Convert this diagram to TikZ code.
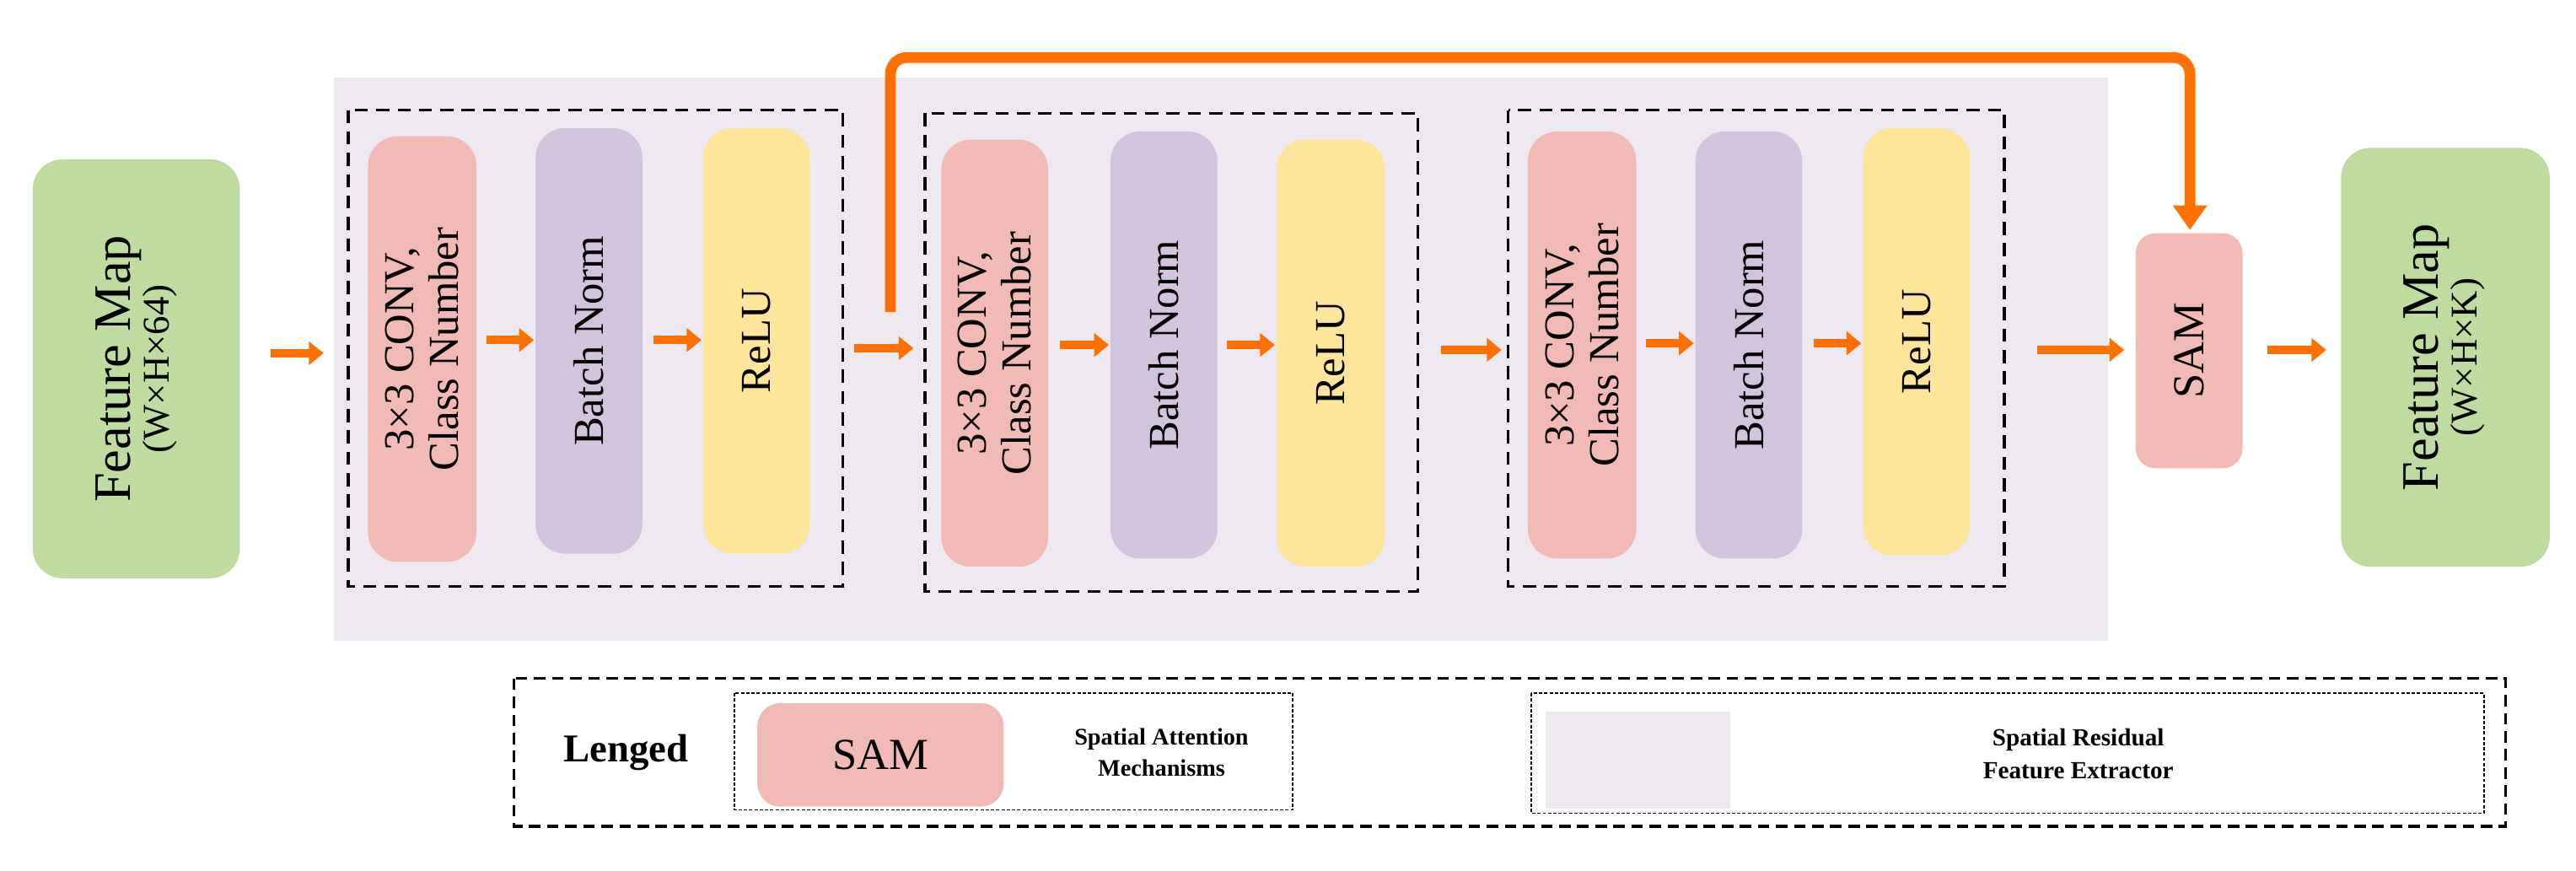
\documentclass[tikz,border=0pt]{standalone}
\usepackage{fontspec}
\setmainfont{Liberation Serif}
\usetikzlibrary{arrows.meta}
\definecolor{pk}{HTML}{F2BAB6}
\definecolor{pu}{HTML}{D2C4DC}
\definecolor{ye}{HTML}{FDE599}
\definecolor{gr}{HTML}{C0DBA0}
\definecolor{bg}{HTML}{EEE8F0}
\definecolor{or}{HTML}{FF7000}
\tikzset{
 blk/.style={rounded corners=18pt,draw=none,inner sep=0pt},
 arr/.style={or,line width=5pt,-{Triangle[length=9pt,width=14pt]}},
 dbox/.style={draw,dashed,line width=1.8pt,dash pattern=on 8pt off 5pt},
 vt/.style={rotate=90,align=center,font=\fontsize{26}{27}\selectfont},
}
\begin{document}
\begin{tikzpicture}[x=1pt,y=-1pt]
\useasboundingbox (0,0) rectangle (1568,530);
\fill[bg] (203,47) rectangle (1283,390);
\fill[gr,blk] (20,97) rectangle (146,352);
\node[rotate=90,align=center] (fin) at (83,224.5) {\fontsize{32}{34}\selectfont Feature Map\\\fontsize{23}{24}\selectfont (W×H×64)};
\fill[gr,blk] (1425,90) rectangle (1552,345);
\node[rotate=90,align=center] (fout) at (1488,217.5) {\fontsize{32}{34}\selectfont Feature Map\\\fontsize{23}{24}\selectfont (W×H×K)};
\draw[dbox] (212,67) rectangle (513,357);
\draw[dbox] (563,69) rectangle (863,360);
\draw[dbox] (918,67) rectangle (1220,357);
\foreach \n/\c/\xa/\xb/\ya/\yb/\t in {
 c1/pk/224/290/83/342/{3×3 CONV,\\Class Number},
 b1/pu/326/391/78/337/{Batch Norm},
 r1/ye/428/493/78/337/{ReLU},
 c2/pk/573/638/85/345/{3×3 CONV,\\Class Number},
 b2/pu/676/741/80/340/{Batch Norm},
 r2/ye/777/843/85/345/{ReLU},
 c3/pk/930/996/80/340/{3×3 CONV,\\Class Number},
 b3/pu/1032/1097/80/340/{Batch Norm},
 r3/ye/1134/1199/78/338/{ReLU}}{
 \fill[\c,blk] (\xa,\ya) rectangle (\xb,\yb);
 \node[vt] (\n) at ({(\xa+\xb)/2},{(\ya+\yb)/2}) {\t};
}
\fill[pk,blk,rounded corners=12pt] (1300,142) rectangle (1365,285);
\node[font=\fontsize{27}{28}\selectfont,rotate=90] (sam) at (1332.5,213.5) {SAM};
\draw[arr] (165,215) -- (197,215);
\draw[arr] (296,207) -- (325,207);
\draw[arr] (398,207) -- (427,207);
\draw[arr] (520,212) -- (556,212);
\draw[arr] (645,210) -- (675,210);
\draw[arr] (747,210) -- (776,210);
\draw[arr] (877,213) -- (914,213);
\draw[arr] (1002,209) -- (1031,209);
\draw[arr] (1104,209) -- (1133,209);
\draw[arr] (1240,213) -- (1293,213);
\draw[arr] (1380,213) -- (1416,213);
\draw[or,line width=6.5pt,rounded corners=10pt,-{Triangle[length=15pt,width=20pt]}] (542,190) -- (542,35) -- (1333,35) -- (1333,140);
\draw[dbox,line width=1.6pt,dash pattern=on 7pt off 4pt] (313,413) rectangle (1525,503);
\node[font=\bfseries\fontsize{24}{26}\selectfont] (lg) at (381,458) {Lenged};
\draw[dashed,line width=0.9pt,dash pattern=on 2pt off 1.2pt] (447,422) rectangle (787,493);
\fill[pk,rounded corners=14pt] (461,428) rectangle (611,491);
\node[font=\fontsize{27}{28}\selectfont] (lsam) at (536,459.5) {SAM};
\node[font=\bfseries\fontsize{14.5}{19}\selectfont,align=center] (lsamt) at (707,458) {Spatial Attention\\Mechanisms};
\draw[dashed,line width=0.9pt,dash pattern=on 2pt off 1.2pt] (932,422) rectangle (1512,495);
\fill[bg] (941,433) rectangle (1053,492);
\node[font=\bfseries\fontsize{15}{20}\selectfont,align=center] (lbgt) at (1265,459) {Spatial Residual\\Feature Extractor};
\end{tikzpicture}
\end{document}
